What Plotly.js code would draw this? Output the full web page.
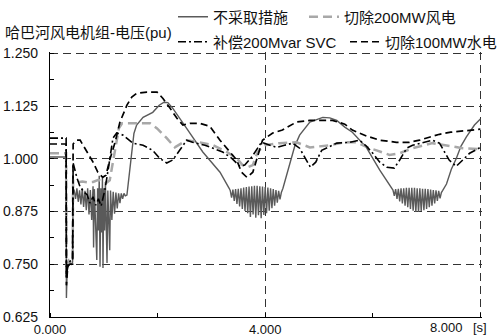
<!DOCTYPE html>
<html><head><meta charset="utf-8">
<script src="https://cdn.plot.ly/plotly-3.0.1.min.js"></script>
<style>html,body{margin:0;padding:0;background:#fff;}#chart{width:497px;height:336px;}</style>
</head><body><div id="chart"></div>
<script>
const TITLE = '哈巴河风电机组-电压(pu)';
const NAMES = ['不采取措施', '切除200MW风电', '补偿200Mvar SVC', '切除100MW水电'];
const Y_TICKS = [0.625, 0.75, 0.875, 1.0, 1.125, 1.25];
const Y_LABELS = ['0.625', '0.750', '0.875', '1.000', '1.125', '1.250'];
const X_TICKS = [0, 4, 8];
const X_LABELS = ['0.000', '4.000', ''];
const X_END_LABEL = '8.000';
const X_UNIT = '[s]';

// 不采取措施 (no action)
const T_NONE = [0, 0.30, 0.305, 0.32, 0.36, 0.40, 0.42, 0.43,
  0.450, 0.475, 0.500, 0.525, 0.550, 0.575, 0.600, 0.625, 0.650, 0.675, 0.700, 0.725, 0.750, 0.775,
  0.800, 0.810, 0.825, 0.850, 0.870, 0.885, 0.900, 0.915, 0.930, 0.945, 0.960, 0.975, 0.985, 1.000,
  1.015, 1.030, 1.060, 1.075, 1.090, 1.110, 1.125, 1.150, 1.175, 1.200, 1.225, 1.250, 1.275, 1.300,
  1.325, 1.350, 1.375, 1.400,
  1.43, 1.47, 1.52, 1.56, 1.61, 1.73, 1.91, 2.03, 2.12, 2.19, 2.28, 2.41, 2.54, 2.84, 3.16, 3.33,
  3.350, 3.375, 3.400, 3.425, 3.450, 3.475, 3.500, 3.525, 3.550, 3.575, 3.600, 3.625, 3.650, 3.675,
  3.700, 3.725, 3.750, 3.775, 3.800, 3.825, 3.850, 3.875, 3.900, 3.925, 3.950, 3.975, 4.000, 4.025,
  4.050, 4.075, 4.100, 4.125, 4.150, 4.175, 4.200, 4.225, 4.250, 4.275, 4.300,
  4.33, 4.45, 4.55, 4.64, 4.83, 5.07, 5.20, 5.33, 5.48, 5.62, 5.88, 6.13, 6.25, 6.35,
  6.375, 6.400, 6.425, 6.450, 6.475, 6.500, 6.525, 6.550, 6.575, 6.600, 6.625, 6.650, 6.675, 6.700,
  6.725, 6.750, 6.775, 6.800, 6.825, 6.850, 6.875, 6.900, 6.925, 6.950, 6.975, 7.000, 7.025, 7.050,
  7.075, 7.100, 7.125, 7.150, 7.175, 7.200, 7.225, 7.250, 7.275,
  7.30, 7.37, 7.46, 7.55, 7.64, 7.74, 7.89, 8.0];
const V_NONE = [1.004, 1.004, 0.67, 0.74, 0.755, 0.75, 0.755, 0.93,
  0.925, 0.905, 0.930, 0.898, 0.925, 0.892, 0.930, 0.886, 0.924, 0.878, 0.930, 0.868, 0.926, 0.855,
  0.935, 0.790, 0.928, 0.835, 0.760, 0.930, 0.830, 0.960, 0.744, 0.930, 0.825, 0.955, 0.741, 0.930,
  0.830, 0.945, 0.753, 0.925, 0.840, 0.783, 0.925, 0.855, 0.922, 0.870, 0.920, 0.882, 0.918, 0.895,
  0.918, 0.905, 0.918, 0.912,
  0.914, 0.960, 1.016, 1.060, 1.080, 1.098, 1.110, 1.127, 1.134, 1.133, 1.120, 1.097, 1.072, 1.016, 0.968, 0.930,
  0.925, 0.908, 0.927, 0.900, 0.928, 0.893, 0.929, 0.887, 0.930, 0.881, 0.932, 0.876, 0.933, 0.871,
  0.934, 0.862, 0.935, 0.868, 0.936, 0.860, 0.936, 0.866, 0.935, 0.859, 0.934, 0.867, 0.933, 0.871,
  0.932, 0.877, 0.930, 0.883, 0.928, 0.889, 0.926, 0.896, 0.924, 0.904, 0.920,
  0.930, 0.985, 1.030, 1.056, 1.087, 1.098, 1.097, 1.091, 1.075, 1.063, 1.027, 0.973, 0.950, 0.930,
  0.926, 0.912, 0.928, 0.905, 0.929, 0.899, 0.930, 0.894, 0.930, 0.889, 0.931, 0.885, 0.931, 0.881,
  0.931, 0.877, 0.931, 0.874, 0.930, 0.874, 0.930, 0.876, 0.929, 0.878, 0.929, 0.881, 0.928, 0.885,
  0.927, 0.889, 0.926, 0.894, 0.925, 0.900, 0.924, 0.906, 0.920,
  0.925, 0.940, 0.975, 1.000, 1.030, 1.052, 1.080, 1.094];

// 切除200MW风电 (wind cut)
const T_WIND = [0, 0.30, 0.305, 0.35, 0.42, 0.43, 0.50, 0.60, 0.70, 0.80, 0.90, 1.00, 1.06, 1.11, 1.16, 1.21,
  1.28, 1.34, 1.86, 1.99, 2.17, 2.32, 2.54, 2.78, 3.03, 3.29, 3.47, 3.58, 3.68, 3.77, 3.86, 3.99, 4.27,
  4.58, 4.83, 5.20, 5.48, 5.70, 5.94, 6.07, 6.31, 6.50, 6.74, 7.11, 7.37, 7.67, 8.0];
const V_WIND = [1.013, 1.013, 0.73, 0.76, 0.76, 0.95, 0.944, 0.946, 0.944, 0.945, 0.950, 0.945, 0.944, 0.949, 0.985, 1.020,
  1.072, 1.084, 1.084, 1.072, 1.049, 1.027, 1.044, 1.039, 1.032, 1.016, 1.001, 0.985, 0.980, 0.985, 1.016, 1.032, 1.037,
  1.039, 1.027, 1.032, 1.039, 1.039, 1.025, 1.020, 1.009, 1.013, 1.025, 1.037, 1.032, 1.025, 1.023];

// 补偿200Mvar SVC
const T_SVC = [0, 0.30, 0.305, 0.34, 0.42, 0.43, 0.50, 0.56, 0.64, 0.69, 0.74, 0.80, 0.85, 0.90, 0.95, 0.99,
  1.02, 1.08, 1.13, 1.17, 1.24, 1.36, 1.54, 1.73, 1.91, 2.04, 2.17, 2.28, 2.41, 2.54, 2.65, 2.88, 3.03,
  3.21, 3.38, 3.53, 3.62, 3.75, 3.93, 4.08, 4.21, 4.36, 4.51, 4.64, 4.77, 4.84, 4.94, 5.05, 5.33, 5.57,
  5.75, 5.88, 6.00, 6.13, 6.26, 6.40, 6.50, 6.63, 6.74, 6.99, 7.11, 7.24, 7.33, 7.42, 7.55, 7.67, 7.80, 8.0];
const V_SVC = [1.049, 1.049, 0.72, 0.755, 0.76, 0.99, 0.955, 0.933, 0.92, 0.915, 0.895, 0.910, 0.890, 0.905, 0.888, 0.910,
  0.926, 0.973, 1.020, 1.049, 1.061, 1.056, 1.037, 1.032, 1.020, 1.001, 0.990, 0.997, 1.020, 1.044, 1.039, 1.032, 1.025,
  1.016, 1.001, 0.982, 0.985, 1.004, 1.039, 1.032, 1.027, 1.032, 1.037, 1.025, 0.997, 0.980, 0.992, 1.020, 1.037, 1.039,
  1.044, 1.030, 1.013, 0.992, 0.980, 0.978, 0.997, 1.025, 1.032, 1.039, 1.044, 1.037, 1.016, 0.997, 0.982, 0.997, 1.013, 1.027];

// 切除100MW水电 (hydro cut)
const T_HYD = [0, 0.30, 0.305, 0.33, 0.37, 0.42, 0.43, 0.50, 0.56, 0.69, 0.80, 0.89, 0.98, 1.04, 1.11, 1.21,
  1.30, 1.43, 1.52, 1.61, 1.80, 1.99, 2.10, 2.23, 2.36, 2.47, 2.60, 2.78, 2.97, 3.16, 3.34, 3.47, 3.56,
  3.66, 3.77, 3.86, 3.95, 4.14, 4.32, 4.58, 4.83, 5.25, 5.48, 5.62, 5.88, 6.13, 6.44, 6.68, 6.87, 7.05,
  7.24, 7.45, 7.67, 8.0];
const V_HYD = [1.035, 1.035, 0.70, 0.745, 0.75, 0.75, 1.035, 1.044, 1.044, 1.016, 0.992, 0.968, 0.956, 0.961, 0.997, 1.039,
  1.087, 1.127, 1.146, 1.155, 1.158, 1.158, 1.143, 1.120, 1.096, 1.080, 1.084, 1.084, 1.077, 1.044, 1.016, 0.997, 0.968,
  0.956, 0.968, 1.009, 1.044, 1.061, 1.068, 1.087, 1.091, 1.091, 1.082, 1.068, 1.054, 1.044, 1.039, 1.039, 1.044, 1.051,
  1.058, 1.063, 1.066, 1.070];

const FONT = 'Liberation Sans, Arial, Noto Sans CJK SC, sans-serif';
const LEG_FONT = {family: FONT, size: 15, color: '#111'};

const traces = [
  {x: T_NONE, y: V_NONE, name: NAMES[0], mode: 'lines', line: {color: '#5a5a5a', width: 1.4}, legend: 'legend'},
  {x: T_WIND, y: V_WIND, name: NAMES[1], mode: 'lines', line: {color: '#a8a8a8', width: 2.5, dash: '9px,5px'}, legend: 'legend2'},
  {x: T_SVC, y: V_SVC, name: NAMES[2], mode: 'lines', line: {color: '#000', width: 1.6, dash: '8px,3px,2px,3px'}, legend: 'legend3'},
  {x: T_HYD, y: V_HYD, name: NAMES[3], mode: 'lines', line: {color: '#000', width: 1.7, dash: '7px,4px'}, legend: 'legend4'}
];

function leg(xpx, ypx) {
  return {xref: 'container', yref: 'container', x: xpx / 497, y: 1 - ypx / 336, xanchor: 'left', yanchor: 'middle',
    orientation: 'h', font: LEG_FONT, bgcolor: 'rgba(0,0,0,0)', borderwidth: 0, itemwidth: 30};
}

const layout = {
  width: 497, height: 336,
  margin: {l: 50, r: 15, t: 52, b: 19, autoexpand: false},
  paper_bgcolor: '#fff', plot_bgcolor: '#fff',
  showlegend: true,
  title: {text: TITLE, font: {family: FONT, size: 15, color: '#111'}, xref: 'container', yref: 'container',
    x: 5 / 497, xanchor: 'left', y: 1 - 33 / 336, yanchor: 'middle'},
  legend: leg(173, 17), legend2: leg(304, 17), legend3: leg(173, 42), legend4: leg(345, 42),
  xaxis: {range: [0, 8.03], tickvals: X_TICKS, ticktext: X_LABELS, showgrid: true, gridcolor: '#333', gridwidth: 1,
    griddash: '8px,5px', showline: true, linecolor: '#000', linewidth: 1.2, ticks: '', zeroline: false,
    tickfont: {family: FONT, size: 13, color: '#111'}, ticklabelstandoff: 0,
    minor: {dtick: 2, tick0: 0, ticks: 'inside', ticklen: 4, tickcolor: '#000', tickwidth: 1, showgrid: false}},
  yaxis: {range: [0.625, 1.253], tickvals: Y_TICKS, ticktext: Y_LABELS, showgrid: true, gridcolor: '#333', gridwidth: 1,
    griddash: '8px,5px', showline: true, linecolor: '#000', linewidth: 1.2, ticks: '', zeroline: false,
    tickfont: {family: FONT, size: 14, color: '#111'}, ticklabelstandoff: 8,
    minor: {dtick: 0.0625, tick0: 0.625, ticks: 'inside', ticklen: 4, tickcolor: '#000', tickwidth: 1, showgrid: false}},
  annotations: [
    {text: X_END_LABEL, x: 8, xref: 'x', y: 0, yref: 'paper', xanchor: 'right', yanchor: 'top', xshift: -15, yshift: -1,
      showarrow: false, font: {family: FONT, size: 13, color: '#111'}},
    {text: X_UNIT, x: 8, xref: 'x', y: 0, yref: 'paper', xanchor: 'left', yanchor: 'top', xshift: -9, yshift: -1,
      showarrow: false, font: {family: FONT, size: 13, color: '#111'}}
  ]
};

Plotly.newPlot('chart', traces, layout, {staticPlot: true, displayModeBar: false});
</script></body></html>
